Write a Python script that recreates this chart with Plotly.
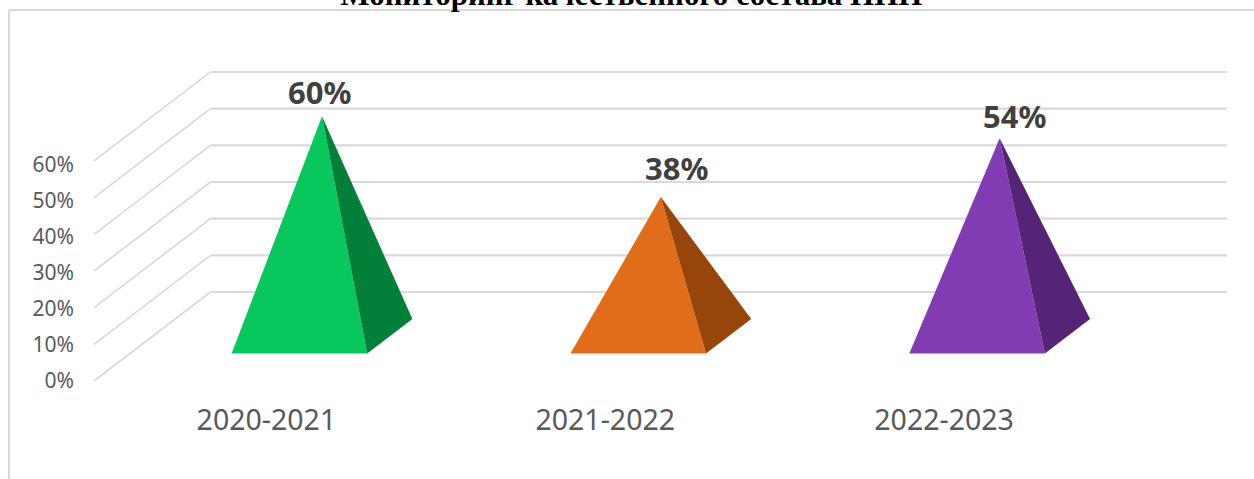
import plotly.graph_objects as go

# --- data ---
categories = ["2020-2021", "2021-2022", "2022-2023"]
values = [60, 38, 54]
value_labels = ["60%", "38%", "54%"]
axis_ticks = [0, 10, 20, 30, 40, 50, 60]
axis_tick_labels = ["0%", "10%", "20%", "30%", "40%", "50%", "60%"]
title_text = "Мониторинг качественного состава ППП"

# --- style ---
front_colors = ["#08C75D", "#E16C19", "#813BB3"]
side_colors = ["#027F38", "#97450B", "#552476"]
grid_color = "#D9D9D9"
label_shift_x = [-3, 16, 14.5]
label_shift_y = [-24, -29, -22]

W, H = 1254, 479
# pixel layout of the chart's scales
plot_left, plot_bottom = 78, 400
front_x0, cat_px = 94.0, 338.83
zero_py, val_px = 381.0, 3.667
tick_px = 3.6                              # the tick labels sit slightly tighter
depth_dx_px, depth_dy_px = 116.5, 89.0

depth_dx = depth_dx_px / cat_px            # category units per unit depth
depth_dy = depth_dy_px / val_px            # value units per unit depth
bar_width = 0.4                            # share of a category (gap 150%)
near, far = 0.309, 0.697                   # floor depth of the pyramid base


def project(cat, val, depth):
    return cat + depth * depth_dx, val + depth * depth_dy


fig = go.Figure()


def wall_line(points, width):
    xy = [project(*p) for p in points]
    fig.add_trace(go.Scatter(
        x=[p[0] for p in xy], y=[p[1] for p in xy], mode="lines",
        line=dict(color=grid_color, width=width),
        hoverinfo="skip", showlegend=False))


def poly(points, color):
    xy = [project(*p) for p in points]
    fig.add_trace(go.Scatter(
        x=[p[0] for p in xy], y=[p[1] for p in xy], mode="lines",
        fill="toself", fillcolor=color, line=dict(width=0, color=color),
        hoverinfo="skip", showlegend=False))


# walls: gridlines on the side wall and the back wall
for t in axis_ticks:
    wall_line([(-0.5, t, 0), (-0.5, t, 1)], 1.6)
    wall_line([(-0.5, t, 1), (2.5, t, 1)], 2.2)

# pyramids
annotations = []
for i, v in enumerate(values):
    l, r = i - bar_width / 2, i + bar_width / 2
    apex = (i, v, (near + far) / 2)
    poly([(l, 0, near), (r, 0, near), apex], front_colors[i])
    poly([(r, 0, near), (r, 0, far), apex], side_colors[i])
    ax, ay = project(*apex)
    annotations.append(dict(
        x=ax, y=ay, xref="x", yref="y", text=value_labels[i], showarrow=False,
        xanchor="center", yanchor="middle",
        xshift=label_shift_x[i], yshift=-label_shift_y[i],
        font=dict(family="Noto Sans", size=31, color="#404040", weight="bold")))

# an unseen trace carries the axis that draws the value tick labels
fig.add_trace(go.Scatter(x=[0], y=[axis_ticks[0]], yaxis="y2", mode="markers",
                         marker=dict(opacity=0), hoverinfo="skip", showlegend=False))

left_frac = plot_left / W
frame = dict(line=dict(color=grid_color, width=2), xref="paper", yref="paper",
             type="line", layer="below")
frame_x = 9 / W
bot_frac = (H - plot_bottom) / H
frame_top = 1 - 10 / H

fig.update_layout(
    width=W, height=H,
    margin=dict(l=0, r=0, t=0, b=0),
    paper_bgcolor="white", plot_bgcolor="rgba(0,0,0,0)",
    showlegend=False, hovermode=False,
    title=dict(text="<b>" + title_text + "</b>", x=0.5035, xanchor="center",
               y=0.99, yanchor="bottom",
               font=dict(family="Liberation Serif", size=31, color="black")),
    xaxis=dict(domain=[left_frac, 1],
               range=[(plot_left - front_x0) / cat_px - 0.5,
                      (W - front_x0) / cat_px - 0.5],
               tickmode="array", tickvals=[0, 1, 2], ticktext=categories,
               ticklabelshift=3,
               tickfont=dict(family="Noto Sans", size=28.5, color="#595959"),
               showgrid=False, zeroline=False, showline=False, ticks=""),
    yaxis=dict(domain=[bot_frac, 1],
               range=[(zero_py - plot_bottom) / val_px, zero_py / val_px],
               showticklabels=False,
               showgrid=False, zeroline=False, showline=False, ticks=""),
    yaxis2=dict(domain=[bot_frac, 1], overlaying="y", anchor="x", side="left",
                range=[(zero_py - plot_bottom) / tick_px, zero_py / tick_px],
                tickmode="array", tickvals=axis_ticks, ticktext=axis_tick_labels,
                ticklabelstandoff=3,
                tickfont=dict(family="Noto Sans", size=21, color="#595959"),
                showgrid=False, zeroline=False, showline=False, ticks=""),
    annotations=annotations,
    shapes=[
        dict(x0=frame_x, x1=frame_x, y0=0, y1=frame_top, **frame),
        dict(x0=frame_x, x1=1, y0=frame_top, y1=frame_top, **frame),
    ],
)

# the page's default body margin would push the chart 8 px down and right
fig.write_html("out.html", config=dict(displayModeBar=False),
               post_script="document.body.style.margin='0';")
